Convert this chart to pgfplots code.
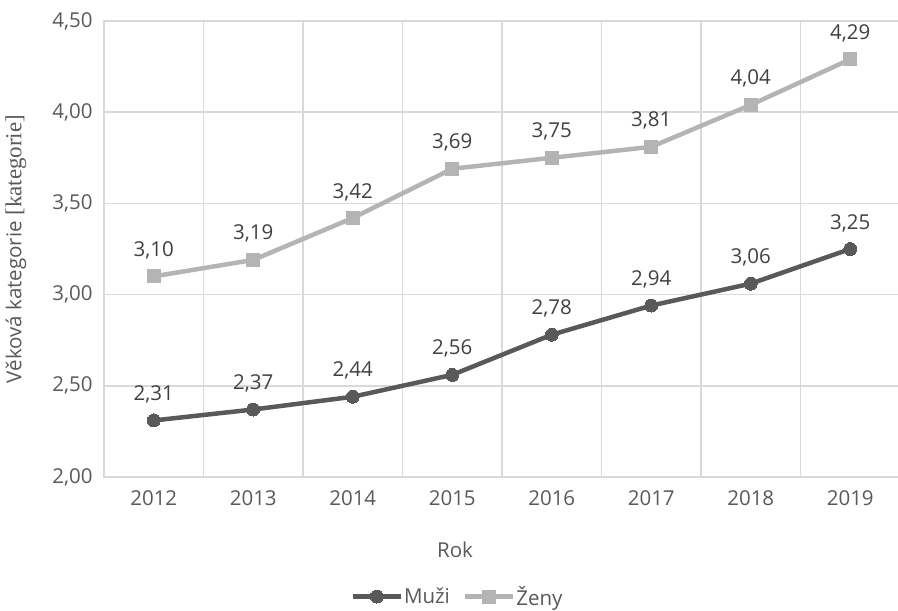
\documentclass[border=0pt]{standalone}
\usepackage{pgfplots}
\pgfplotsset{compat=1.18}
\usepackage{fontspec}
\setmainfont{Open Sans}
\newfontfamily\serifpart[Scale=1.12]{Liberation Serif}

\definecolor{muzi}{HTML}{595959}
\definecolor{zeny}{HTML}{B4B4B4}
\definecolor{gridc}{HTML}{D9D9D9}
\definecolor{txt}{HTML}{595959}
\definecolor{lbl}{HTML}{404040}

\newcommand{\fs}{\fontsize{20.5}{24}\selectfont}

\begin{document}
\begin{tikzpicture}
\useasboundingbox (0,0) rectangle (898pt,611pt);
\begin{axis}[
  at={(104pt,134pt)}, anchor=south west,
  scale only axis, width=796pt, height=456pt,
  xmin=-0.5, xmax=7.5, ymin=2, ymax=4.5,
  xtick={0,...,7},
  xticklabels={2012,2013,2014,2015,2016,2017,2018,2019},
  minor xtick={-0.5,0.5,...,7.5},
  ytick={2,2.5,...,4.5},
  yticklabel style={/pgf/number format/fixed, /pgf/number format/fixed zerofill,
    /pgf/number format/precision=2, /pgf/number format/use comma, xshift=-8pt},
  /pgf/number format/assume math mode=true,
  ymajorgrids, xminorgrids,
  grid style={draw=gridc, line width=1.5pt},
  minor grid style={draw=gridc, line width=1.5pt},
  axis line style={draw=gridc, line width=1.5pt},
  major tick length=0pt, minor tick length=0pt,
  tick label style={font=\fs, text=txt},
  xticklabel style={yshift=-10pt},
  xlabel={Rok},
  ylabel={Věková kategorie {\serifpart[kategorie]}},
  every axis x label/.style={at={(axis description cs:0.441,0)}, yshift=-73pt, anchor=center, font=\fs, text=txt},
  every axis y label/.style={at={(axis description cs:0,0.5)}, xshift=-88pt, rotate=90, anchor=center, font=\fs, text=txt},
  nodes near coords,
  point meta=y,
  every node near coord/.append style={font=\fs, text=lbl, anchor=south, yshift=14pt,
    /pgf/number format/fixed, /pgf/number format/fixed zerofill,
    /pgf/number format/precision=2, /pgf/number format/use comma},
  legend columns=2,
  legend style={at={(axis description cs:0.4435,0)}, yshift=-131pt, anchor=south,
    draw=none, fill=none, font=\fs, text=txt, inner sep=0pt,
    nodes={inner sep=1pt},
    /tikz/every even column/.append style={column sep=12pt}},
  legend image code/.code={\draw[mark repeat=2, mark phase=2, #1] plot coordinates {(0pt,0pt) (24pt,0pt) (48pt,0pt)};},
]
\addplot[color=muzi, line width=4.5pt, mark=*, mark size=6.5pt, mark options={solid, line width=0pt, fill=muzi}]
  coordinates {(0,2.31) (1,2.37) (2,2.44) (3,2.56) (4,2.78) (5,2.94) (6,3.06) (7,3.25)};
\addlegendentry{Muži}
\addplot[color=zeny, line width=4.5pt, mark=square*, mark size=6.5pt, mark options={solid, line width=0pt, fill=zeny}]
  coordinates {(0,3.10) (1,3.19) (2,3.42) (3,3.69) (4,3.75) (5,3.81) (6,4.04) (7,4.29)};
\addlegendentry{Ženy}
\end{axis}
\end{tikzpicture}
\end{document}
